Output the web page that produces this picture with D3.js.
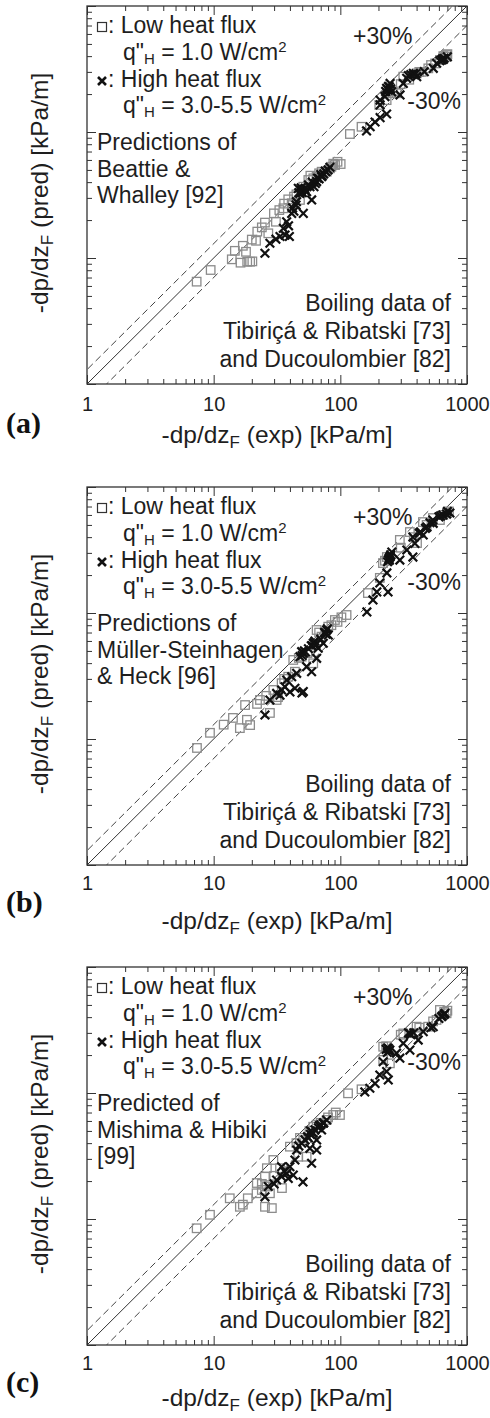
<!DOCTYPE html>
<html>
<head>
<meta charset="utf-8">
<script src="https://cdn.jsdelivr.net/npm/d3@7"></script>
<style>
  body { margin: 0; background: #fff; }
  svg { display: block; }
</style>
</head>
<body>
<script>
// ---- data: [exp, pred] in kPa/m ----
const xTicks = [1, 10, 100, 1000];

const lowA = [[7.34,6.49],[9.47,8.03],[13.9,9.76],[16.3,9.18],[19.4,9.35],[18.4,9.35],[20.2,9.4],[14.7,11.4],[18.0,11.2],
  [21.6,13.7],[22.1,16.2],[27.0,15.7],[25.4,19.1],[29.9,22.6],[31.0,19.4],[35.5,24.8],[38.8,29.2],[43.1,30.7],[48.0,28.9],
  [41.3,27.2],[51.0,36.8],[55.9,41.6],[61.2,42.9],[65.0,44.2],[71.2,48.4],[78.0,48.4],[82.8,51.5],[90.8,54.7],[100.6,55.7],
  [95,58],[119,96.4],[147,110],[203,164],[232,179],[247,203],[279,203],[314,275],[401,292],[495,320],[612,373],[691,408],
  [650,400],[560,350],[440,300],[350,260],[58,45],[68,47],[85,53],[88,56],[45,32],[36,27],[33,24],[24,17.5],[20,14],
  [17,12.5],[260,210],[300,240],[420,300],[520,340],[700,415],[680,395]];
const highA = [[25.4,10.9],[27.8,13.1],[31.0,14.1],[33.4,14.8],[36.6,15.2],[39.6,14.8],[35.5,17.2],[37.7,19.4],[41.3,22.6],
  [44.7,26.3],[48.0,32.6],[49.5,34.6],[51.0,22.6],[59.4,28.9],[61.9,36.8],[65.0,40.4],[71.2,44.2],[77.1,48.4],[82.8,52.5],
  [54.2,33.6],[57.6,36.8],[46.6,35.7],[50.2,33.0],[52.5,35.5],[63.5,39.0],[68.0,42.5],[74.0,46.5],[80.0,50.0],[43.0,23.5],
  [39.0,18.0],[161,102],[172,110],[188,120],[206,130],[232,139],[206,164],[206,179],[225,191],[232,222],[239,215],[254,209],
  [296,197],[314,243],[334,267],[377,292],[401,275],[460,301],[542,320],[576,351],[631,373],[650,377],[247,243],[240,230],
  [360,285],[700,395],[47,33],[49,36],[53,34],[56,38],[60,40],[66,43],[70,46],[72,45],[76,49],[236,218],[244,228],
  [250,220],[228,210],[345,280],[380,285],[395,290],[640,380],[660,385],[610,368],[42,25],[45,28]];

const lowB = [[7.38,8.49],[9.35,11.2],[14.2,14.7],[18.3,14.2],[16.1,12.2],[19.4,12.9],[27.8,16.1],[23.2,20.4],[32.2,21.5],
  [17.7,18.6],[29.6,24.5],[34.4,27.7],[38.8,31.2],[43.8,34.2],[49.5,45.0],[57.5,49.3],[61.1,39.9],[65.0,73.3],[80.3,77.9],
  [90.6,88.0],[102,92.4],[112,96.4],[71.1,64.9],[42.5,42.4],[31.4,20.4],[165,144],[205,190],[217,249],[233,278],[295,380],
  [403,359],[354,439],[449,527],[538,567],[694,622],[611,547],[47,44],[55,48],[68,70],[85,80],[95,85],[36,30],[26,22],
  [22,19],[12,13],[225,260],[300,330],[380,400],[480,500],[650,600],[720,640]];
const highB = [[25.4,15.5],[27.8,20.4],[33.4,22.3],[40.0,23.6],[49.8,23.2],[31.4,23.0],[36.5,26.0],[43.8,25.3],[37.7,29.4],
  [41.3,31.2],[45.2,33.2],[54.2,37.5],[59.3,34.2],[51.0,47.9],[49.5,49.3],[65.0,43.7],[61.1,57.5],[66.9,52.5],[73.3,57.5],
  [78.0,73.3],[80.3,66.9],[51.0,23.8],[34.4,24.5],[48,45],[52,50],[60,55],[63,60],[75,70],[77,68],
  [162,102],[181,127],[194,147],[238,147],[205,173],[233,208],[246,278],[255,305],[295,263],[374,278],[335,316],[374,401],
  [483,481],[538,547],[645,599],[733,622],[250,290],[240,263],[388,357],[451,416],[541,515],[420,430],[600,580],
  [50,46],[53,49],[56,52],[59,55],[62,58],[64,56],[70,62],[76,70],[79,75],[236,255],[242,270],[248,282],[244,262],
  [430,440],[470,470],[510,520],[620,590],[690,610],[700,640]];

const lowC = [[7.34,8.44],[9.35,10.8],[13.4,14.6],[16.1,12.5],[18.6,14.6],[21.9,19.3],[26.3,25.3],[26.2,18.1],[27.8,16.0],
  [25.4,12.5],[28.8,12.2],[21.8,16.0],[25.4,21.7],[33.4,25.3],[34.6,17.6],[29.6,29.4],[40.0,37.5],[46.5,31.2],[54.2,31.2],
  [51.0,42.4],[61.1,54.0],[87.9,66.9],[99.3,66.9],[78.0,61.1],[115,99.4],[147,107],[218,183],[246,172],[314,297],[400,336],
  [400,297],[494,336],[575,380],[690,429],[611,456],[218,233],[17.0,13.0],[24.0,17.0],[45,40],[48,44],[57,50],[65,56],
  [70,58],[80,64],[92,70],[230,235],[300,290],[420,330],[540,370],[660,440],[700,450],[24,19],[30,22]];
const highC = [[25.4,15.0],[27.0,18.1],[31.4,20.4],[34.4,21.7],[37.7,23.0],[38.8,21.0],[42.5,22.3],[50.7,19.7],[34.4,26.0],
  [40.0,26.0],[43.8,29.4],[45.2,35.3],[49.5,39.9],[52.6,42.4],[57.5,36.4],[59.3,27.7],[65.0,35.3],[61.1,47.9],[71.1,50.9],
  [73.3,57.5],[78.0,61.1],[65.0,42.4],[47,38],[55,45],[58,50],[68,55],
  [156,102],[171,109],[188,119],[205,139],[239,127],[232,148],[218,177],[246,219],[278,207],[295,189],[354,219],[354,297],
  [451,307],[541,336],[630,403],[670,429],[314,248],[412,263],[240,225],[235,210],[600,390],[56,44],[58,47],[60,49],
  [63,51],[67,53],[70,56],[74,58],[230,222],[236,228],[242,215],[360,290],[345,300],[380,300],[640,410],[660,420],
  [520,330],[30,19],[36,24]];

const lowSets = [lowA, lowB, lowC];
const highSets = [highA, highB, highC];
const bands = [1.3, 0.7];   // +30% / -30% lines
const panelTags = ["(a)", "(b)", "(c)"];
const modelText = [
  ["Predictions of", "Beattie &", "Whalley [92]"],
  ["Predictions of", "Müller-Steinhagen", "& Heck [96]"],
  ["Predicted of", "Mishima & Hibiki", "[99]"]
];
const sourceText = ["Boiling data of", "Tibiriçá & Ribatski [73]", "and Ducoulombier [82]"];

// ---- layout ----
const W = 490, H = 1418;
const left = 87, pw = 380, ph = 378;
const tops = [6, 487, 967];
const tickOff = [27, 25, 25];     // tick label baseline below frame
const tagOff = [49, 47, 47];
const titleOff = [59, 64, 61];
const ink = "#1e1e1e";
const sans = '"Liberation Sans", Arial, sans-serif';

const svg = d3.select("body").append("svg")
  .attr("width", W).attr("height", H)
  .style("font-family", sans);

const x = d3.scaleLog().domain([1, 1000]).range([0, pw]);
const y = d3.scaleLog().domain([1, 1000]).range([ph, 0]);
const minor = x.ticks().filter(d => !xTicks.includes(d));

panelTags.forEach((tag, i) => {
  const g = svg.append("g").attr("transform", `translate(${left},${tops[i]})`);

  g.append("clipPath").attr("id", "clip" + i)
    .append("rect").attr("width", pw).attr("height", ph);

  // ----- axes (inward ticks on all sides) -----
  const axes = [
    [d3.axisBottom(x), `translate(0,${ph})`],
    [d3.axisTop(x), null],
    [d3.axisLeft(y), null],
    [d3.axisRight(y), `translate(${pw},0)`]
  ];
  axes.forEach(([ax, tr], k) => {
    const big = g.append("g").call(ax.tickValues(xTicks).tickSize(-9)
      .tickPadding(k === 0 ? tickOff[i] - 14 : 3)
      .tickFormat(k === 0 ? d3.format("d") : ""));
    const sm = g.append("g").call(ax.tickValues(minor).tickSize(-5).tickFormat(""));
    [big, sm].forEach(a => {
      if (tr) a.attr("transform", tr);
      a.select(".domain").remove();
      a.selectAll("line").attr("stroke", "#333").attr("stroke-width", 1);
    });
    big.selectAll("text").attr("fill", ink).style("font-size", "20px")
      .attr("font-family", sans);
  });

  g.append("rect").attr("width", pw).attr("height", ph)
    .attr("fill", "none").attr("stroke", "#333").attr("stroke-width", 1.3);

  // ----- parity lines -----
  const line = d3.line().x(d => x(d[0])).y(d => y(d[1]));
  const lines = g.append("g").attr("clip-path", `url(#clip${i})`).attr("fill", "none");
  lines.append("path").attr("d", line([[1, 1], [1000, 1000]]))
    .attr("stroke", "#333").attr("stroke-width", 1);
  bands.forEach(f => {
    lines.append("path").attr("d", line([[0.5, 0.5 * f], [2000, 2000 * f]]))
      .attr("stroke", "#444").attr("stroke-width", 1).attr("stroke-dasharray", "7,4");
  });

  // ----- points -----
  const s = 8.5;
  g.append("g").selectAll("rect").data(lowSets[i]).join("rect")
    .attr("x", d => x(d[0]) - s / 2).attr("y", d => y(d[1]) - s / 2)
    .attr("width", s).attr("height", s)
    .attr("fill", "none").attr("stroke", "#8c8c8c").attr("stroke-width", 1.3);
  const cross = "M-4.3,-4.3L4.3,4.3M-4.3,4.3L4.3,-4.3";
  g.append("g").selectAll("path").data(highSets[i]).join("path")
    .attr("transform", d => `translate(${x(d[0])},${y(d[1])})`)
    .attr("d", cross).attr("fill", "none").attr("stroke", "#111").attr("stroke-width", 2.2);

  // ----- legend text -----
  const txt = g.append("g").attr("fill", ink).style("font-size", "23px");
  txt.append("rect").attr("x", 10.5).attr("y", 16.5).attr("width", 9).attr("height", 9)
    .attr("fill", "none").attr("stroke", "#333").attr("stroke-width", 1.2);
  txt.append("path").attr("transform", "translate(15,75)")
    .attr("d", "M-4,-4L4,4M-4,4L4,-4").attr("stroke", "#111").attr("stroke-width", 2.6);
  txt.append("text").attr("x", 21).attr("y", 27).text(": Low heat flux");
  txt.append("text").attr("x", 21).attr("y", 81).text(": High heat flux");

  const flux = (yy, val) => {
    const t = txt.append("text").attr("x", 36).attr("y", yy);
    t.append("tspan").text('q"');
    t.append("tspan").attr("dy", 4).style("font-size", "15px").text("H");
    t.append("tspan").attr("dy", -4).text(` = ${val} W/cm`);
    t.append("tspan").attr("dy", -8).style("font-size", "15px").text("2");
  };
  flux(54, "1.0");
  flux(107, "3.0-5.5");

  modelText[i].forEach((l, k) => {
    txt.append("text").attr("x", 10).attr("y", 144 + k * 26.5).text(l);
  });
  sourceText.forEach((l, k) => {
    txt.append("text").attr("x", 364).attr("y", 305 + k * 28)
      .attr("text-anchor", "end").text(l);
  });
  txt.append("text").attr("x", 266).attr("y", 38).text("+30%");
  txt.append("text").attr("x", 374).attr("y", 103).attr("text-anchor", "end").text("-30%");

  // ----- axis titles -----
  const title = (sel, word) => {
    sel.append("tspan").text("-dp/dz");
    sel.append("tspan").attr("dy", 5).style("font-size", "17px").text("F");
    sel.append("tspan").attr("dy", -5).text(` (${word}) [kPa/m]`);
  };
  const xt = g.append("text").attr("x", pw / 2).attr("y", ph + titleOff[i])
    .attr("text-anchor", "middle").attr("fill", ink).style("font-size", "24.5px");
  title(xt, "exp");
  const yt = g.append("text").attr("text-anchor", "middle").attr("fill", ink)
    .style("font-size", "24.5px")
    .attr("transform", `translate(${48 - left},${ph / 2 - 2}) rotate(-90)`);
  title(yt, "pred");

  // panel tag
  g.append("text").attr("x", 6 - left).attr("y", ph + tagOff[i])
    .attr("fill", "#111").style("font-size", "30px").style("font-weight", "bold")
    .style("font-family", '"Liberation Serif", "Times New Roman", serif')
    .text(tag);
});
</script>
</body>
</html>
